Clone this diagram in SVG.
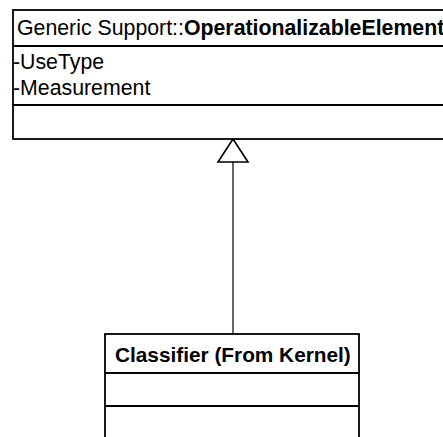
<svg xmlns="http://www.w3.org/2000/svg" width="443" height="437" viewBox="0 0 443 437">
<style>
.box{fill:#fff;stroke:#000;stroke-width:1.8}
.sep{stroke:#000;stroke-width:1.8;fill:none}
.t{font-family:"Liberation Sans",Arial,sans-serif;font-size:21.3px;fill:#000}
.b{font-weight:bold}
.cls{font-size:20.8px}
.conn{stroke:#000;stroke-width:1.2;fill:none}
.head{fill:#fff;stroke:#000;stroke-width:1.6}
</style>
<g id="connectors">
<line class="conn" x1="233" y1="162" x2="233" y2="334"/>
<polygon class="head" points="233,139 218,162 248,162"/>
</g>
<g id="operationalizable-element">
<rect class="box" x="13" y="10" width="440" height="129"/>
<line class="sep" x1="13" y1="46" x2="443" y2="46"/>
<line class="sep" x1="13" y1="105" x2="443" y2="105"/>
<text class="t" x="17" y="35">Generic Support::<tspan class="b">OperationalizableElement</tspan></text>
<text class="t" x="13" y="69">-UseType</text>
<text class="t" x="13" y="95">-Measurement</text>
</g>
<g id="classifier">
<rect class="box" x="105" y="334" width="254" height="110"/>
<line class="sep" x1="105" y1="373" x2="359" y2="373"/>
<line class="sep" x1="105" y1="406" x2="359" y2="406"/>
<text class="t b cls" x="115" y="362">Classifier (From Kernel)</text>
</g>
</svg>
